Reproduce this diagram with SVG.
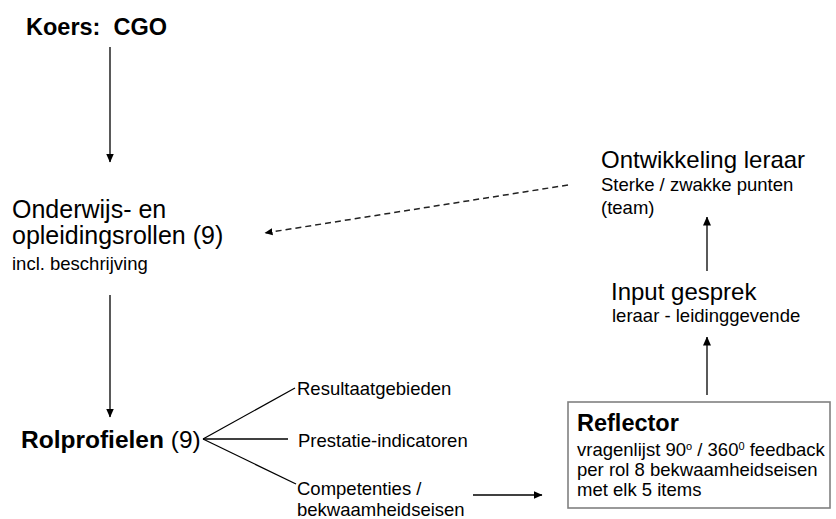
<svg xmlns="http://www.w3.org/2000/svg" width="836" height="519" viewBox="0 0 836 519">
<style>
text{font-family:"Liberation Sans",Arial,sans-serif;fill:#000;white-space:pre}
.big{font-size:24px}
.big2{font-size:25px}
.sm{font-size:18.5px}
.b{font-weight:bold;font-size:23.5px}
.ln{stroke:#000;stroke-width:1.3;fill:none}
.dash{stroke:#222;stroke-width:1.5;fill:none;stroke-dasharray:6,4}
</style>
<defs>
<marker id="ah" markerWidth="9" markerHeight="9" refX="8.5" refY="4.5" orient="auto" markerUnits="userSpaceOnUse">
<path d="M0,0.5 L9,4.5 L0,8.5 Z" fill="#000"/>
</marker>
<marker id="ahs" markerWidth="8" markerHeight="8" refX="7.5" refY="4" orient="auto" markerUnits="userSpaceOnUse">
<path d="M0,0.5 L8,4 L0,7.5 Z" fill="#000"/>
</marker>
</defs>
<rect width="836" height="519" fill="#fff"/>
<g id="connectors">
<line class="ln" x1="110" y1="47" x2="110" y2="162" marker-end="url(#ah)"/>
<line class="ln" x1="110" y1="295" x2="110" y2="417" marker-end="url(#ah)"/>
<line class="dash" x1="568" y1="185" x2="265" y2="233" marker-end="url(#ahs)"/>
<line class="ln" x1="473" y1="495" x2="542" y2="495" marker-end="url(#ah)"/>
<line class="ln" x1="707" y1="395" x2="707" y2="337" marker-end="url(#ah)"/>
<line class="ln" x1="707" y1="271" x2="707" y2="217" marker-end="url(#ah)"/>
<line class="ln" x1="203" y1="439" x2="295" y2="388"/>
<line class="ln" x1="203" y1="439" x2="288" y2="439"/>
<line class="ln" x1="203" y1="439" x2="296" y2="484"/>
</g>
<g id="koers"><text x="26" y="35" class="b">Koers:  CGO</text></g>
<g id="onderwijs">
<text x="12" y="218" class="big2">Onderwijs- en</text>
<text x="12" y="244" class="big2">opleidingsrollen (9)</text>
<text x="12" y="270" class="sm">incl. beschrijving</text>
</g>
<g id="rolprofielen"><text x="21" y="448" font-size="24.5px"><tspan font-weight="bold">Rolprofielen</tspan> (9)</text></g>
<g id="resultaat"><text x="297" y="395" class="sm">Resultaatgebieden</text></g>
<g id="prestatie"><text x="298" y="447" class="sm">Prestatie-indicatoren</text></g>
<g id="competenties">
<text x="297" y="495" class="sm">Competenties /</text>
<text x="297" y="516" class="sm">bekwaamheidseisen</text>
</g>
<g id="reflector">
<rect x="568" y="402" width="262" height="106" fill="#fff" stroke="#808080" stroke-width="1.6"/>
<text x="577" y="431" class="b">Reflector</text>
<text x="577" y="456" class="sm">vragenlijst 90<tspan font-size="11" dy="-6">o</tspan><tspan dy="6"> / 360</tspan><tspan font-size="11" dy="-6">0</tspan><tspan dy="6"> feedback</tspan></text>
<text x="577" y="476" class="sm">per rol 8 bekwaamheidseisen</text>
<text x="577" y="496" class="sm">met elk 5 items</text>
</g>
<g id="input">
<text x="611" y="300" class="big">Input gesprek</text>
<text x="612" y="322" class="sm">leraar - leidinggevende</text>
</g>
<g id="ontwikkeling">
<text x="601" y="168" class="big">Ontwikkeling leraar</text>
<text x="601" y="191" class="sm">Sterke / zwakke punten</text>
<text x="601" y="214" class="sm">(team)</text>
</g>
</svg>
